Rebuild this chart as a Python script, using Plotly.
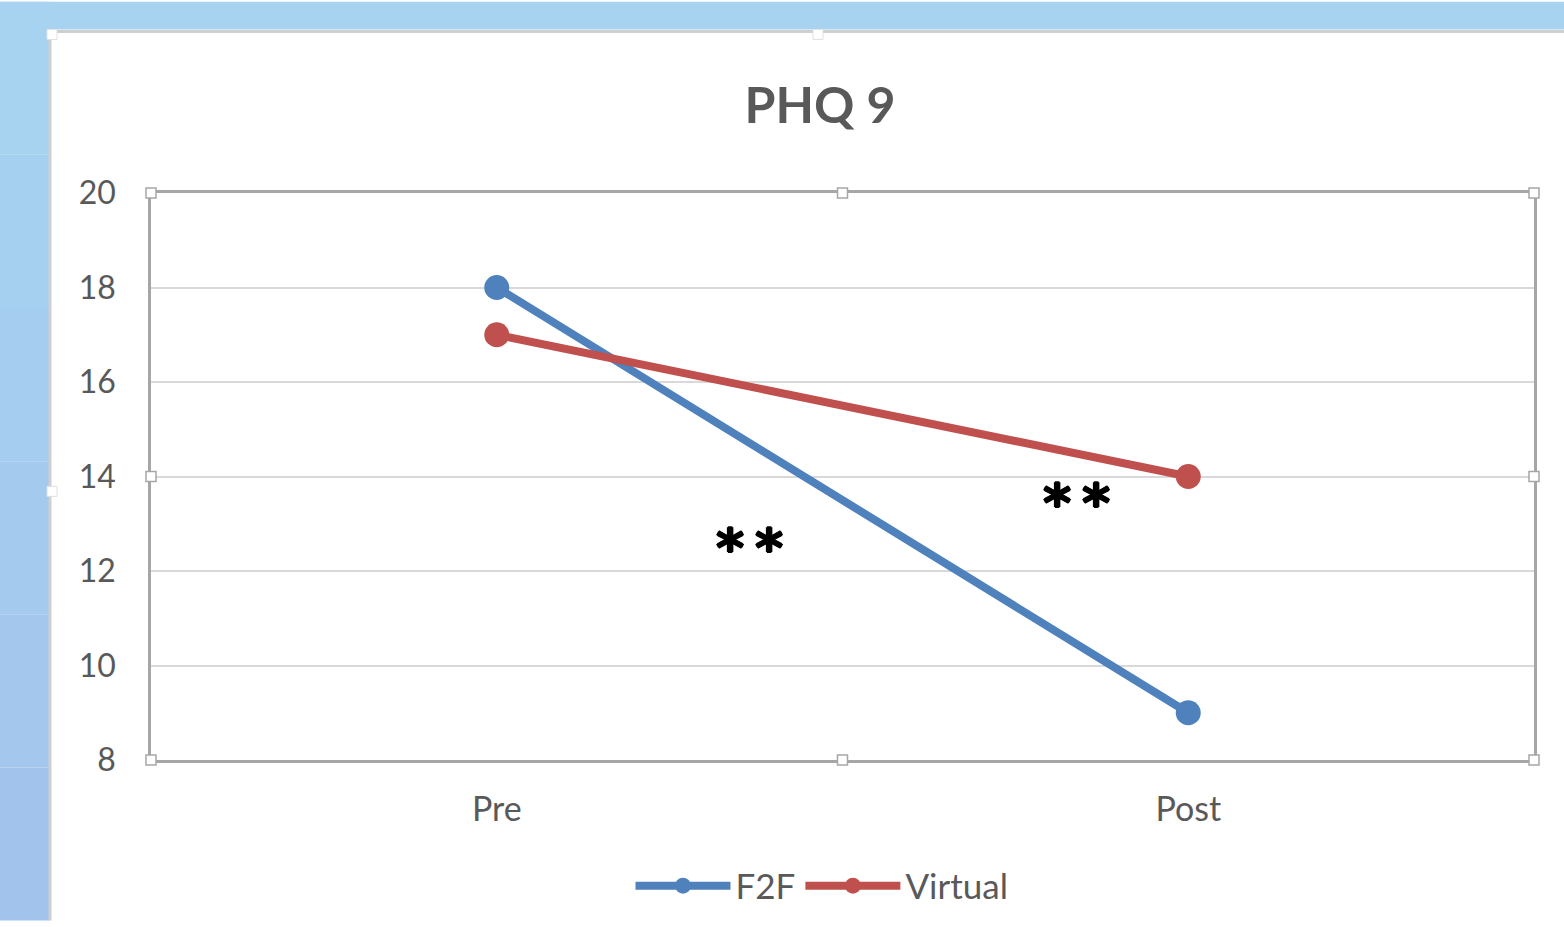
import plotly.graph_objects as go

categories = ["Pre", "Post"]
f2f = [18, 9]
virtual = [17, 14]
y_ticks = [8, 10, 12, 14, 16, 18, 20]
sig_labels = ["*\u2009*", "*\u2009*"]
sig_x = [0.366, 0.839]
sig_y = [12.65, 13.6]

W, H = 1564, 927
L, R, T, B = 151, 30, 193, 162
PW, PH = W - L - R, H - T - B

def px(x):
    return (x - L) / PW

def py(y):
    return (H - B - y) / PH

FONT = "Lato, Open Sans, sans-serif"
GRAY = "#595959"
BLUE = "#4F81BD"
RED = "#C0504D"

fig = go.Figure()
fig.add_trace(go.Scatter(x=categories, y=f2f, name="F2F", mode="lines+markers",
                         line=dict(color=BLUE, width=8), marker=dict(size=25, color=BLUE)))
fig.add_trace(go.Scatter(x=categories, y=virtual, name="Virtual", mode="lines+markers",
                         line=dict(color=RED, width=8), marker=dict(size=25, color=RED)))

for t, xv, yv in zip(sig_labels, sig_x, sig_y):
    fig.add_annotation(x=xv, y=yv, xref="x", yref="y", text="<b>" + t + "</b>", showarrow=False,
                       yshift=-8,
                       font=dict(size=54, color="black", family="DejaVu Sans",
                                 shadow="1px 0 0 black, -1px 0 0 black, 0 1px 0 black, 0 -1px 0 black"))

shapes = []
# blue background strips
bands = ["#A7D3F1", "#A6D0F0", "#A5CDEF", "#A4CAEE", "#A3C7ED", "#A2C4EC"]
n = len(bands)
for i, c in enumerate(bands):
    shapes.append(dict(type="rect", xref="paper", yref="paper", layer="below",
                       x0=px(0), x1=px(49), y0=py(H * i / n), y1=py(H * (i + 1) / n),
                       fillcolor=c, line=dict(width=0)))
shapes.append(dict(type="rect", xref="paper", yref="paper", layer="below",
                   x0=px(0), x1=px(W), y0=py(0), y1=py(28), fillcolor="#A7D3F1", line=dict(width=0)))
# chart frame border
shapes.append(dict(type="line", xref="paper", yref="paper", x0=px(50), x1=px(W), y0=py(30), y1=py(30),
                   line=dict(color="#CFCFCF", width=3)))
shapes.append(dict(type="line", xref="paper", yref="paper", x0=px(50), x1=px(50), y0=py(30), y1=py(H),
                   line=dict(color="#CFCFCF", width=3)))

# selection handles on plot area
for hx, hy in [(0, 1), (0.5, 1), (1, 1), (0, 0.5), (1, 0.5), (0, 0), (0.5, 0), (1, 0)]:
    shapes.append(dict(type="rect", xref="paper", yref="paper", xsizemode="pixel", ysizemode="pixel",
                       xanchor=hx, yanchor=hy, x0=-5, x1=5, y0=-5, y1=5,
                       fillcolor="white", line=dict(color="#A6A6A6", width=1.5)))
# frame handles
for hx, hy in [(px(52), py(33)), (px(818), py(33)), (px(52), py(494))]:
    shapes.append(dict(type="rect", xref="paper", yref="paper", xsizemode="pixel", ysizemode="pixel",
                       xanchor=hx, yanchor=hy, x0=-5, x1=5, y0=-5, y1=5,
                       fillcolor="white", line=dict(color="#E0E0E0", width=1)))

fig.update_layout(
    width=W, height=H,
    margin=dict(l=L, r=R, t=T, b=B),
    paper_bgcolor="white", plot_bgcolor="white",
    title=dict(text="<b>PHQ 9</b>", x=820 / W, xref="container", xanchor="center",
               y=1 - 105 / H, yref="container", yanchor="middle",
               font=dict(size=50, color=GRAY, family=FONT)),
    showlegend=True,
    legend=dict(orientation="h", x=px(822), y=py(892), xanchor="center", yanchor="middle",
                font=dict(size=35, color=GRAY, family=FONT), itemwidth=95, bgcolor="rgba(0,0,0,0)"),
    shapes=shapes,
    xaxis=dict(type="category", range=[-0.5, 1.5], showgrid=False, showline=True, mirror=True,
               linecolor="#A6A6A6", linewidth=2.5, ticks="", ticklabelstandoff=17,
               tickfont=dict(size=34, color=GRAY, family=FONT), fixedrange=True),
    yaxis=dict(range=[8, 20], tickvals=y_ticks, showgrid=True, gridcolor="#D9D9D9", gridwidth=2,
               showline=True, mirror=True, linecolor="#A6A6A6", linewidth=2.5, ticks="",
               ticklabelstandoff=26, zeroline=False,
               tickfont=dict(size=32, color=GRAY, family=FONT), fixedrange=True),
)

fig.write_html("out.html", config={"displayModeBar": False},
               post_script="document.body.style.margin='0';")
